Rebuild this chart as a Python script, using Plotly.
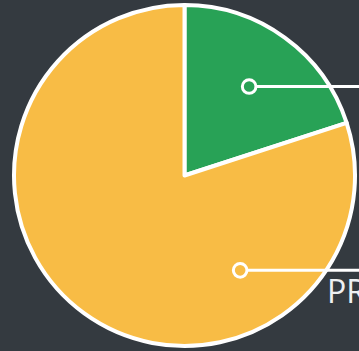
import math
import plotly.graph_objects as go

# Task status share
labels = ["DONE", "PROGRESS"]
values = [20, 80]
colors = ["#28a256", "#f8bc45"]
# where each callout is anchored on its slice (degrees clockwise from 12 o'clock)
anchor_angles = [None, 149.6]  # None -> slice middle
label_x = [372, 325]

W, H = 359, 351
BG = "#343a40"
top_pad, bot_pad = 5, 5
dom_x0 = 0.0279

cx = (dom_x0 + 1) / 2 * W
cy = top_pad + (H - top_pad - bot_pad) / 2
R = (H - top_pad - bot_pad) / 2
anchor_r = 0.645 * R

fig = go.Figure()
fig.add_trace(go.Pie(
    labels=labels, values=values, sort=False, direction="clockwise", rotation=0,
    marker=dict(colors=colors, line=dict(color="white", width=4)),
    textinfo="none", hoverinfo="label+percent", showlegend=False,
    domain=dict(x=[dom_x0, 1], y=[bot_pad / H, 1 - top_pad / H]),
))

total = sum(values)
start = 0.0
shapes, annotations = [], []
for lab, v, col, ang, tx in zip(labels, values, colors, anchor_angles, label_x):
    span = v / total * 360
    a = start + span / 2 if ang is None else ang
    start += span
    px = cx + anchor_r * math.sin(math.radians(a))
    py = cy - anchor_r * math.cos(math.radians(a))
    rr = 6.8
    shapes.append(dict(type="line", xref="x", yref="y", x0=px + rr, x1=W + 60, y0=py, y1=py,
                       line=dict(color="white", width=3), layer="above"))
    shapes.append(dict(type="circle", xref="x", yref="y", x0=px - rr, x1=px + rr,
                       y0=py - rr, y1=py + rr, fillcolor=col,
                       line=dict(color="white", width=3), layer="above"))
    annotations.append(dict(x=tx, y=py - 3, xref="x", yref="y", xanchor="left", yanchor="top",
                            text=f"{lab} {v}%", showarrow=False,
                            font=dict(family="Open Sans", size=32, color="#eef0f2")))

fig.update_layout(
    width=W, height=H, margin=dict(l=0, r=0, t=0, b=0),
    paper_bgcolor=BG, plot_bgcolor=BG,
    xaxis=dict(range=[0, W], visible=False, fixedrange=True, domain=[0, 1]),
    yaxis=dict(range=[H, 0], visible=False, fixedrange=True, domain=[0, 1]),
    shapes=shapes, annotations=annotations,
)
fig.write_html("out.html")
